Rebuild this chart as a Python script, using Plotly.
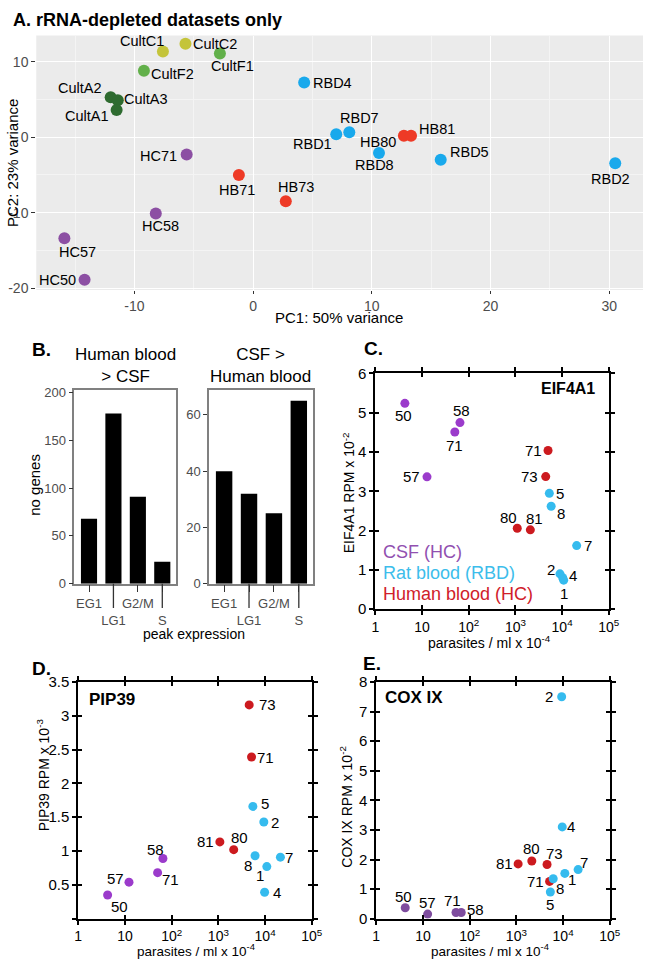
import math
import plotly.graph_objects as go

W, H = 654, 965
FONT = "Liberation Sans, Arial, sans-serif"

# ---------------- Panel A data (PCA) ----------------
pca_labels = ["CultC1", "CultC2", "CultF1", "CultF2", "CultA2", "CultA3", "CultA1",
              "RBD4", "RBD7", "RBD1", "RBD8", "RBD5", "RBD2",
              "HB80", "HB81", "HB71", "HB73",
              "HC71", "HC58", "HC57", "HC50"]
pca_pc1 = [-7.6, -5.7, -2.8, -9.2, -12.0, -11.4, -11.5,
           4.3, 8.1, 7.0, 10.6, 15.8, 30.5,
           12.7, 13.3, -1.2, 2.75,
           -5.6, -8.2, -15.9, -14.2]
pca_pc2 = [11.35, 12.4, 11.1, 8.8, 5.3, 4.9, 3.6,
           7.25, 0.65, 0.4, -2.1, -3.0, -3.45,
           0.2, 0.2, -5.0, -8.5,
           -2.3, -10.1, -13.4, -18.9]
pca_groups = ["CultC", "CultF", "CultA", "RBD", "HB", "HC"]
pca_xticks = [-10, 0, 10, 20, 30]
pca_yticks = [-20, -10, 0, 10]

# ---------------- Panel B data (bar charts) ----------------
phases = ["EG1", "LG1", "G2/M", "S"]
blood_gt_csf = [68, 178, 91, 23]
csf_gt_blood = [40, 32, 25, 65]

# ---------------- Panels C-E data ----------------
group_names = {"CSF": "CSF (HC)", "RBD": "Rat blood (RBD)", "HB": "Human blood (HC)"}

C_groups = ["CSF"] * 4 + ["HB"] * 4 + ["RBD"] * 6
C_ids = ["50", "58", "71", "57", "71", "73", "80", "81", "5", "8", "7", "2", "4", "1"]
C_parasites = [4.3, 65, 50.5, 12.8, 5000, 4460, 1096, 2090, 5330, 5830, 20500, 9000, 10300, 10800]
C_eif4a1 = [5.24, 4.75, 4.51, 3.37, 4.04, 3.375, 2.06, 2.02, 2.95, 2.62, 1.62, 0.90, 0.80, 0.74]

D_groups = ["CSF"] * 4 + ["HB"] * 4 + ["RBD"] * 6
D_ids = ["50", "57", "71", "58", "81", "80", "73", "71", "5", "2", "8", "1", "7", "4"]
D_parasites = [4.25, 12.2, 50, 65, 1076, 2130, 4570, 5130, 5480, 9400, 6110, 10900, 21300, 9780]
D_pip39 = [0.35, 0.54, 0.68, 0.89, 1.135, 1.02, 3.16, 2.39, 1.66, 1.43, 0.93, 0.77, 0.91, 0.39]

E_groups = ["CSF"] * 4 + ["HB"] * 4 + ["RBD"] * 6
E_ids = ["50", "57", "71", "58", "81", "80", "73", "71", "2", "4", "7", "1", "8", "5"]
E_parasites = [4.17, 12.6, 51, 66, 1090, 2140, 4540, 5140, 9330, 9600, 21000, 10900, 6150, 5340]
E_cox9 = [0.37, 0.155, 0.21, 0.21, 1.85, 1.95, 1.83, 1.26, 7.50, 3.10, 1.66, 1.53, 1.35, 0.90]

log_tickvals = [1, 10, 100, 1000, 10000, 100000]
log_ticktext = ["1", "10", "10<sup>2</sup>", "10<sup>3</sup>", "10<sup>4</sup>", "10<sup>5</sup>"]

# ---------------- styles ----------------
pca_colors = {"CultC": "#C4C43A", "CultF": "#62B04A", "CultA": "#2E6B30",
              "RBD": "#19A9EC", "HB": "#EE3A26", "HC": "#8C4FA3"}
grp_colors_C = {"CSF": "#9B3BCB", "RBD": "#35BBEE", "HB": "#CC1A1F"}
grp_colors_E = {"CSF": "#7E4C9E", "RBD": "#35BBEE", "HB": "#CC1A1F"}
legend_colors = {"CSF": "#9150B0", "RBD": "#3CBDEB", "HB": "#D0202A"}

# label offsets (dx right, dy up) in pixels
A_off = {"CultC1": (-21, 11), "CultC2": (30, 0), "CultF1": (13, -13), "CultF2": (29, -3),
         "CultA2": (-31, 9), "CultA3": (28, 1), "CultA1": (-30, -6), "RBD4": (28, 0),
         "RBD7": (10, 14), "RBD1": (-24, -10), "HB80": (-26, -6), "HB81": (26, 7),
         "RBD8": (-4, -12), "RBD5": (29, 8), "RBD2": (-5, -16), "HC71": (-28, -1),
         "HB71": (-2, -15), "HB73": (10, 14), "HC58": (5, -13), "HC57": (13, -14),
         "HC50": (-27, 0)}
C_off = [(-1, -12), (2, 12), (0, -13), (-15, 0), (-15, 0), (-16, 0), (-9, 11), (4, 11),
         (11, 0), (10, -7), (11, 0), (-9, 4), (10, 2), (0, -13)]
D_off = [(12, -11), (-13, 4), (13, -7), (-7, 9), (-14, 0), (6, 12), (18, 0), (14, 0),
         (12, 3), (11, -1), (-7, -10), (-7, -9), (9, 0), (12, 0)]
E_off = [(-2, 11), (0, 12), (-4, 12), (14, 3), (-14, 0), (0, 12), (7, 11), (-14, 0),
         (-13, 0), (9, 0), (6, 7), (7, -6), (7, -10), (0, -12)]


def pxx(px):
    return px / W


def pxy(py):
    return 1 - py / H


fig = go.Figure()
ann = []
shapes = []

# ---------------- Panel A ----------------
grp_of = [lab.rstrip("0123456789") for lab in pca_labels]
for g in pca_groups:
    idx = [i for i, gg in enumerate(grp_of) if gg == g]
    fig.add_trace(go.Scatter(
        x=[pca_pc1[i] for i in idx], y=[pca_pc2[i] for i in idx], mode="markers",
        marker=dict(size=12, color=pca_colors[g]), xaxis="x", yaxis="y", showlegend=False,
        hoverinfo="skip"))
for lab, x, y in zip(pca_labels, pca_pc1, pca_pc2):
    dx, dy = A_off[lab]
    ann.append(dict(x=x, y=y, xref="x", yref="y", text=lab, showarrow=False,
                    xshift=dx, yshift=dy, font=dict(size=14.5, color="black")))
shapes.append(dict(type="rect", xref="x domain", yref="y domain", x0=0, x1=1, y0=0, y1=1,
                   fillcolor="#EBEBEB", line=dict(width=0), layer="below"))

# ---------------- Panel B ----------------
fig.add_trace(go.Bar(x=phases, y=blood_gt_csf, marker=dict(color="black", line=dict(width=0)),
                     width=0.66, xaxis="x2", yaxis="y2", showlegend=False, hoverinfo="skip"))
fig.add_trace(go.Bar(x=phases, y=csf_gt_blood, marker=dict(color="black", line=dict(width=0)),
                     width=0.66, xaxis="x3", yaxis="y3", showlegend=False, hoverinfo="skip"))
stag_text = [p if i % 2 == 0 else "<br>" + p for i, p in enumerate(phases)]
for xr in ["x2", "x3"]:
    yr = "y2" if xr == "x2" else "y3"
    for i, p in enumerate(phases):
        if i % 2 == 1:
            shapes.append(dict(type="line", xref=xr, yref=yr + " domain", x0=i, x1=i,
                               y0=0, y1=-0.125, line=dict(color="#333333", width=1.3)))


# ---------------- Panels C-E ----------------
def scatter_panel(xs, ys, groups, ids, offs, colors, xa, ya):
    for g in ["CSF", "HB", "RBD"]:
        idx = [i for i, gg in enumerate(groups) if gg == g]
        fig.add_trace(go.Scatter(
            x=[xs[i] for i in idx], y=[ys[i] for i in idx], mode="markers",
            marker=dict(size=9, color=colors[g]), xaxis=xa, yaxis=ya,
            showlegend=False, hoverinfo="skip"))
    for i, (x, y, t) in enumerate(zip(xs, ys, ids)):
        dx, dy = offs[i]
        ann.append(dict(x=math.log10(x), y=y, xref=xa, yref=ya, text=t, showarrow=False,
                        xshift=dx, yshift=dy, font=dict(size=15, color="black")))


scatter_panel(C_parasites, C_eif4a1, C_groups, C_ids, C_off, grp_colors_C, "x4", "y4")
scatter_panel(D_parasites, D_pip39, D_groups, D_ids, D_off, grp_colors_C, "x5", "y5")
scatter_panel(E_parasites, E_cox9, E_groups, E_ids, E_off, grp_colors_E, "x6", "y6")

# ---------------- axes ----------------
gray_tick = dict(size=14, color="#4D4D4D", family=FONT)
A_dom_x = [pxx(33), 1.0]
A_dom_y = [pxy(286), pxy(27)]

layout_axes = dict(
    xaxis=dict(domain=A_dom_x, anchor="y", range=[-18.27, 32.84], tickvals=pca_xticks,
               ticktext=[str(v) for v in pca_xticks],
               showgrid=True, gridcolor="white", gridwidth=1.2, zeroline=False,
               minor=dict(dtick=5, showgrid=True, gridcolor="#F4F4F4", gridwidth=0.6),
               ticks="outside", ticklen=3, tickcolor="#333333", tickfont=gray_tick,
               showline=False),
    yaxis=dict(domain=A_dom_y, anchor="x", range=[-20.25, 13.48], tickvals=pca_yticks,
               ticktext=[str(v) for v in pca_yticks],
               showgrid=True, gridcolor="white", gridwidth=1.2, zeroline=False,
               minor=dict(dtick=5, showgrid=True, gridcolor="#F4F4F4", gridwidth=0.6),
               ticks="outside", ticklen=4, tickcolor="#333333", tickfont=gray_tick,
               showline=False),
)

B_dom_y = [pxy(585), pxy(388)]
for xa, ya, dom, rng, dt in [("xaxis2", "yaxis2", [pxx(72), pxx(176)], [0, 202.5], 50),
                             ("xaxis3", "yaxis3", [pxx(210), pxx(316)], [0, 68.8], 20)]:
    n = xa[-1]
    layout_axes[xa] = dict(domain=dom, anchor="y" + n, range=[-0.6, 3.56], type="category",
                           tickvals=phases, ticktext=stag_text, tickangle=0, ticks="outside",
                           ticklen=7, tickcolor="#333333", tickwidth=1.3,
                           tickfont=dict(size=13, color="#4D4D4D", family=FONT),
                           showline=True, linecolor="#808080", linewidth=1.5, mirror=True,
                           showgrid=False, zeroline=False)
    layout_axes[ya] = dict(domain=B_dom_y, anchor="x" + n, range=rng, dtick=dt, tick0=0,
                           ticks="outside", ticklen=4, tickcolor="#333333",
                           tickfont=dict(size=13, color="#4D4D4D", family=FONT),
                           showline=True, linecolor="#808080", linewidth=1.5, mirror=True,
                           showgrid=False, zeroline=False)

frame = dict(showline=True, linecolor="black", linewidth=2, mirror="ticks", ticks="outside",
             ticklen=4, tickwidth=1.5, tickcolor="black", showgrid=False, zeroline=False)
logx = dict(type="log", range=[0, 5], tickvals=log_tickvals, ticktext=log_ticktext,
            tickfont=dict(size=14, color="black", family=FONT), **frame)

C_dom_x = [pxx(380), pxx(619)]
C_dom_y = [pxy(611), pxy(371)]
D_dom_x = [pxx(76), pxx(315)]
E_dom_x = [pxx(381), pxx(620)]
DE_dom_y = [pxy(926), pxy(685)]

layout_axes["xaxis4"] = dict(domain=C_dom_x, anchor="y4", **logx)
layout_axes["yaxis4"] = dict(domain=C_dom_y, anchor="x4", range=[0, 6], dtick=1,
                             tickfont=dict(size=15, color="black", family=FONT), **frame)
layout_axes["xaxis5"] = dict(domain=D_dom_x, anchor="y5", **logx)
D_yt = [0, 0.5, 1, 1.5, 2, 2.5, 3, 3.5]
layout_axes["yaxis5"] = dict(domain=DE_dom_y, anchor="x5", range=[0, 3.5], tickvals=D_yt,
                             ticktext=["" if v == 0 else ("%g" % v) for v in D_yt],
                             tickfont=dict(size=15, color="black", family=FONT), **frame)
layout_axes["xaxis6"] = dict(domain=E_dom_x, anchor="y6", **logx)
layout_axes["yaxis6"] = dict(domain=DE_dom_y, anchor="x6", range=[0, 8], dtick=1,
                             tickfont=dict(size=15, color="black", family=FONT), **frame)

# overlay axes giving inward tick halves (crossing ticks look)
inner = dict(ticks="inside", ticklen=4, tickwidth=1.5, tickcolor="black", mirror="ticks",
             showline=False, showgrid=False, zeroline=False, showticklabels=False)
for base, over in [(4, 7), (5, 8), (6, 9)]:
    by = layout_axes["yaxis%d" % base]
    layout_axes["xaxis%d" % over] = dict(overlaying="x%d" % base, anchor="y%d" % base,
                                         type="log", range=[0, 5], tickvals=log_tickvals, **inner)
    yextra = {k: by[k] for k in ("range", "dtick", "tickvals") if k in by}
    layout_axes["yaxis%d" % over] = dict(overlaying="y%d" % base, anchor="x%d" % base,
                                         **yextra, **inner)
    fig.add_trace(go.Scatter(x=[10], y=[1], mode="markers", marker=dict(opacity=0),
                             xaxis="x%d" % over, yaxis="y%d" % over, showlegend=False,
                             hoverinfo="skip"))


# ---------------- text annotations ----------------
def paper_text(px, py, text, size, color="black", angle=0, xanchor="center", yanchor="middle"):
    ann.append(dict(x=pxx(px), y=pxy(py), xref="paper", yref="paper", text=text,
                    showarrow=False, textangle=angle, xanchor=xanchor, yanchor=yanchor,
                    font=dict(size=size, color=color, family=FONT)))


paper_text(7, 11, "<b>A. rRNA-depleted datasets only</b>", 18, xanchor="left")
paper_text(343, 314, "PC1: 50% variance", 15)
paper_text(8, 157, "PC2: 23% variance", 15, angle=-90)

paper_text(27, 347, "<b>B.</b>", 19, xanchor="left")
paper_text(124, 386, "Human blood<br>&gt; CSF", 17, yanchor="bottom")
paper_text(263, 386, "CSF &gt;<br>Human blood", 17, yanchor="bottom")
paper_text(31, 484, "no genes", 15, angle=-90)
paper_text(194, 636, "peak expression", 14)

paper_text(366, 346, "<b>C.</b>", 19, xanchor="left")
paper_text(607, 386, "<b>EIF4A1</b>", 16, xanchor="right")
for k, py in zip(["CSF", "RBD", "HB"], [553, 574, 595]):
    paper_text(386, py, group_names[k], 18, color=legend_colors[k], xanchor="left")
paper_text(353, 492, "EIF4A1 RPM x 10<sup>-2</sup>", 14, angle=-90)
paper_text(497, 644, "parasites / ml x 10<sup>-4</sup>", 14)

paper_text(27, 671, "<b>D.</b>", 19, xanchor="left")
paper_text(85, 703, "<b>PIP39</b>", 17, xanchor="left")
paper_text(40, 780, "PIP39 RPM x 10<sup>-3</sup>", 14, angle=-90)
paper_text(197, 958, "parasites / ml x 10<sup>-4</sup>", 13.5)

paper_text(365, 666, "<b>E.</b>", 19, xanchor="left")
paper_text(388, 701, "<b>COX IX</b>", 17, xanchor="left")
paper_text(350, 812, "COX IX RPM x 10<sup>-2</sup>", 14, angle=-90)
paper_text(497, 958, "parasites / ml x 10<sup>-4</sup>", 13.5)

fig.update_layout(
    width=W, height=H, autosize=False, margin=dict(l=0, r=0, t=0, b=0),
    paper_bgcolor="white", plot_bgcolor="rgba(0,0,0,0)",
    font=dict(family=FONT, size=14, color="black"),
    showlegend=False, bargap=0.34,
    annotations=ann, shapes=shapes,
    **layout_axes,
)

fig.write_html("out.html", config={"displayModeBar": False},
               post_script="document.body.style.margin='0';document.body.style.padding='0';")
